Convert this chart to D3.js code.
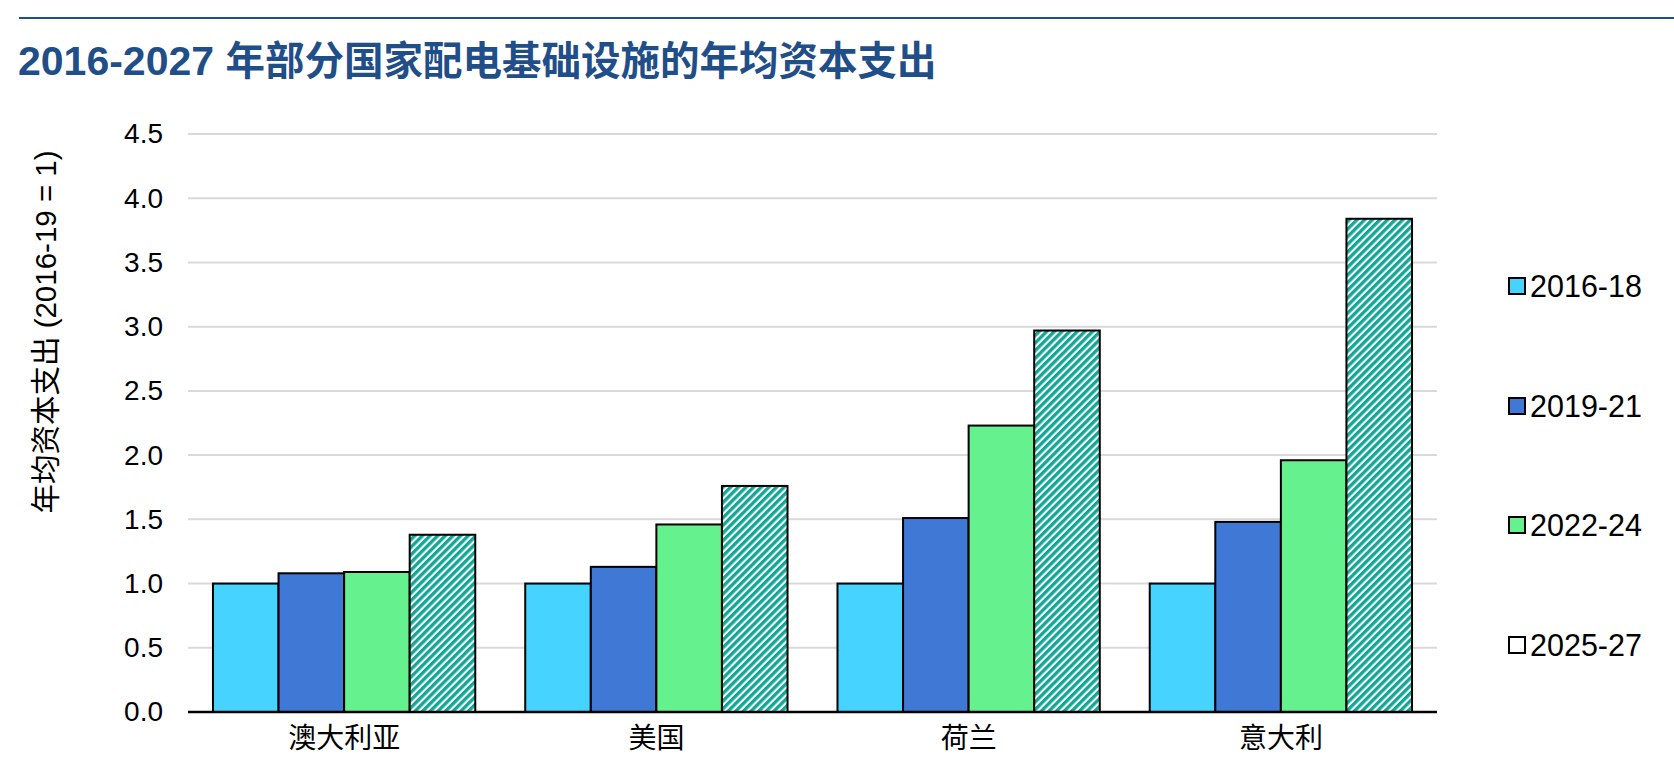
<!DOCTYPE html>
<html>
<head>
<meta charset="utf-8">
<script src="https://cdn.jsdelivr.net/npm/d3@7"></script>
<style>
  body { margin: 0; background: #fff; }
  svg text { font-family: "Liberation Sans", Arial, "Noto Sans CJK SC", sans-serif; }
</style>
</head>
<body>
<div id="chart"></div>
<script>
const categories = ["澳大利亚", "美国", "荷兰", "意大利"];
const seriesNames = ["2016-18", "2019-21", "2022-24", "2025-27"];
const v2016 = [1.0, 1.0, 1.0, 1.0];
const v2019 = [1.08, 1.13, 1.51, 1.48];
const v2022 = [1.09, 1.46, 2.23, 1.96];
const v2025 = [1.38, 1.76, 2.97, 3.84];
const yTicks = [0, 0.5, 1.0, 1.5, 2.0, 2.5, 3.0, 3.5, 4.0, 4.5];

const W = 1674, H = 781;
const margin = {top: 134, right: 237, bottom: 69, left: 188};
const innerW = W - margin.left - margin.right;
const innerH = H - margin.top - margin.bottom;

const svg = d3.select("#chart").append("svg")
    .attr("width", W).attr("height", H);

// stripe pattern for the forecast period
const defs = svg.append("defs");
const pat = defs.append("pattern")
    .attr("id", "hatch").attr("patternUnits", "userSpaceOnUse")
    .attr("width", 5.4).attr("height", 5.4)
    .attr("patternTransform", "rotate(45)");
pat.append("rect").attr("width", 5.4).attr("height", 5.4).attr("fill", "#fff");
pat.append("rect").attr("width", 3.3).attr("height", 5.4).attr("fill", "#10a797");

const fills = ["#47d3ff", "#3f78d5", "#66f18f", "url(#hatch)"];
const legendFills = ["#47d3ff", "#3f78d5", "#66f18f", "#fff"];

// header rule + title
svg.append("line").attr("x1", 19).attr("x2", W).attr("y1", 18).attr("y2", 18)
    .attr("stroke", "#1f4e89").attr("stroke-width", 2);
const title = svg.append("text").attr("x", 18).attr("y", 75)
    .attr("font-weight", "bold").attr("fill", "#1f4e89");
title.append("tspan").attr("font-size", 41).text("2016-2027 ");
title.append("tspan").attr("font-size", 39.5).text("年部分国家配电基础设施的年均资本支出");

const g = svg.append("g").attr("transform", `translate(${margin.left},${margin.top})`);

const x0 = d3.scaleBand().domain(categories).range([0, innerW]).paddingInner(0.16).paddingOuter(0.08);
const x1 = d3.scaleBand().domain(seriesNames).range([0, x0.bandwidth()]);
const y = d3.scaleLinear().domain([0, 4.5]).range([innerH, 0]);

// gridlines
g.append("g").selectAll("line").data(yTicks.filter(d => d > 0)).join("line")
    .attr("x1", 0).attr("x2", innerW)
    .attr("y1", d => y(d)).attr("y2", d => y(d))
    .attr("stroke", "#d9d9d9").attr("stroke-width", 2);

// y axis labels
const yAxis = g.append("g").call(d3.axisLeft(y).tickValues(yTicks).tickFormat(d3.format(".1f")).tickSize(0).tickPadding(25));
yAxis.select(".domain").remove();
yAxis.selectAll("text").attr("font-size", 28).attr("fill", "#000")
    .attr("font-family", "'Liberation Sans', Arial, sans-serif");

// bars
const series = [v2016, v2019, v2022, v2025];
series.forEach((vals, si) => {
    g.append("g").selectAll("rect").data(vals).join("rect")
        .attr("x", (d, i) => x0(categories[i]) + x1(seriesNames[si]))
        .attr("y", d => y(d))
        .attr("width", x1.bandwidth())
        .attr("height", d => y(0) - y(d))
        .attr("fill", fills[si])
        .attr("stroke", "#000").attr("stroke-width", 2);
});

// baseline
g.append("line").attr("x1", 0).attr("x2", innerW).attr("y1", y(0)).attr("y2", y(0))
    .attr("stroke", "#000").attr("stroke-width", 2.5);

// x axis labels
const xAxis = g.append("g").attr("transform", `translate(0,${innerH})`)
    .call(d3.axisBottom(x0).tickSize(0).tickPadding(16));
xAxis.select(".domain").remove();
xAxis.selectAll("text").attr("font-size", 28).attr("fill", "#000");

// y axis title
svg.append("text")
    .attr("transform", `translate(56,332) rotate(-90)`)
    .attr("text-anchor", "middle").attr("font-size", 29.5).attr("fill", "#000")
    .text("年均资本支出 (2016-19 = 1)");

// legend
const legY = [286, 406, 525, 645];
const leg = svg.append("g").selectAll("g").data(seriesNames).join("g")
    .attr("transform", (d, i) => `translate(1509,${legY[i]})`);
leg.append("rect").attr("x", 0).attr("y", -8).attr("width", 16).attr("height", 16)
    .attr("fill", (d, i) => legendFills[i]).attr("stroke", "#000").attr("stroke-width", 2);
leg.append("text").attr("x", 21).attr("y", 0).attr("dy", "0.36em")
    .attr("font-size", 30.5).attr("fill", "#000").text(d => d);
</script>
</body>
</html>
